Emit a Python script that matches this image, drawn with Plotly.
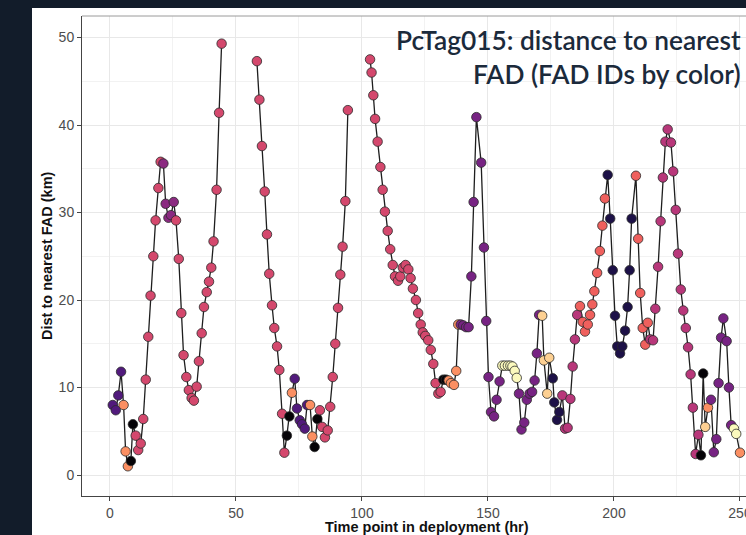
import plotly.graph_objects as go

# ---- data ----
time_seg1 = [1.1, 2.3, 3.3, 4.4, 5.4, 6.2, 7.1, 8.3, 9.1, 10.2, 11.2, 12.2, 13.2, 14.2, 15.2,
             16.1, 17.2, 18.1, 19.2, 20.1, 21.2, 22.1, 23.2, 24.2, 25.3, 26.2, 27.3, 28.3, 29.2,
             30.3, 31.3, 32.4, 33.3, 34.4, 35.3, 36.4, 37.3, 38.4, 39.3, 40.2, 41.1, 42.3, 43.3, 44.3]
dist_seg1 = [8.0, 7.4, 9.1, 11.8, 8.0, 2.7, 1.0, 1.6, 5.8, 4.5, 2.85, 3.6, 6.4, 10.9, 15.8,
             20.5, 25.0, 29.1, 32.8, 35.8, 35.6, 31.0, 29.4, 29.7, 31.2, 29.1, 24.7, 18.5, 13.7,
             11.2, 9.7, 8.8, 8.5, 10.1, 13.0, 16.2, 19.2, 20.9, 22.1, 23.7, 26.7, 32.6, 41.4, 49.3]
fad_seg1 = ["C"] * 4 + ["H"] * 3 + ["A"] * 2 + ["F"] * 11 + ["P"] * 5 + ["F"] * 19

time_seg2 = [58.3, 59.3, 60.3, 61.4, 62.3, 63.2, 64.3, 65.2, 66.3, 67.2, 68.3, 69.2, 70.2, 71.2,
             72.2, 73.3, 74.2, 75.3, 76.2, 77.3, 78.2, 79.4, 80.3, 81.2, 82.3, 83.3, 84.2, 85.3,
             86.4, 87.4, 88.4, 89.4, 90.5, 91.4, 92.3, 93.4, 94.4]
dist_seg2 = [47.3, 42.9, 37.6, 32.4, 27.5, 23.0, 19.4, 16.8, 14.7, 12.0, 7.0, 2.55, 4.5, 6.7,
             9.4, 11.0, 7.6, 6.25, 5.8, 5.3, 8.0, 8.0, 4.4, 3.2, 6.4, 7.4, 5.5, 4.3,
             5.1, 7.8, 11.2, 15.0, 19.1, 22.9, 26.1, 31.3, 41.7]
fad_seg2 = ["F"] * 12 + ["A"] * 2 + ["H"] + ["C"] * 6 + ["H"] * 2 + ["A"] * 2 + ["F"] * 12

time_seg3 = [103.2, 103.8, 104.5, 105.2, 106.2, 107.3, 108.2, 109.1, 110.2, 111.2, 112.2, 113.1,
             114.3, 115.2, 116.2, 117.3, 118.4, 119.3, 120.2, 121.4, 122.3, 123.3, 124.1, 125.1,
             126.3, 127.3, 128.3, 129.2, 130.3, 131.2, 132.3, 133.3, 134.4, 135.3, 136.5, 137.4,
             138.2, 139.2, 140.2, 141.3, 142.3, 143.4, 144.3, 145.4, 147.3, 148.4, 149.3, 150.2,
             151.2, 152.4, 153.4, 154.6, 155.7, 156.7, 157.9, 158.9, 159.7, 160.6, 161.4, 162.3,
             163.3, 164.4, 165.4, 166.5, 167.5, 168.5, 169.4, 170.3, 171.5, 172.2, 173.5, 174.3,
             175.7, 176.3, 177.4, 178.3, 179.5, 180.6, 181.6, 182.7, 183.6, 184.5, 185.4, 186.5,
             187.6, 188.5, 189.6, 190.5, 191.4, 192.2, 193.3, 194.4, 195.4, 196.4, 197.5, 198.5,
             199.5, 200.4, 201.3, 202.4, 203.3, 204.4, 205.4, 206.2, 207.0, 208.7, 209.6, 210.4,
             211.4, 212.4, 213.4, 214.4, 215.5, 216.4, 217.5, 218.5, 219.4, 220.4, 221.3, 222.6,
             223.5, 224.5, 225.4, 226.5, 227.5, 228.5, 229.4, 230.4, 231.3, 232.4, 233.5, 234.5,
             235.4, 236.2, 237.3, 238.5, 239.6, 240.6, 241.5, 242.5, 243.4, 244.7, 245.6, 246.5,
             247.6, 248.5, 250.0]
dist_seg3 = [47.5, 46.0, 43.4, 40.7, 38.1, 35.2, 32.6, 30.1, 27.9, 25.8, 24.0, 22.7,
             22.2, 22.7, 23.7, 24.0, 23.5, 22.5, 21.3, 20.0, 18.5, 17.2, 16.3, 15.9,
             15.4, 14.3, 12.7, 10.5, 9.3, 9.5, 10.9, 10.9, 10.8, 10.5, 10.3, 11.9,
             17.2, 17.2, 17.1, 16.9, 16.9, 22.7, 31.2, 40.9, 35.7, 26.0, 17.6, 11.2,
             7.2, 6.7, 8.6, 10.7, 12.5, 12.5, 12.5, 12.5, 12.4, 11.9, 11.1, 9.3,
             5.2, 6.0, 8.6, 9.3, 9.5, 10.8, 13.9, 18.3, 18.2, 13.1, 9.3, 13.4,
             11.05, 8.3, 6.3, 7.2, 9.1, 5.3, 5.4, 8.7, 12.4, 15.5, 18.3, 19.3,
             17.5, 16.4, 17.2, 18.3, 19.5, 21.0, 23.1, 25.6, 28.5, 31.6, 34.3, 29.3,
             23.4, 18.2, 14.7, 13.9, 14.7, 16.5, 19.2, 23.4, 29.3, 34.2, 27.0, 20.8,
             16.8, 14.9, 17.4, 15.5, 15.4, 19.0, 23.8, 29.0, 34.0, 38.1, 39.5, 38.0,
             34.7, 30.3, 25.3, 21.2, 18.8, 16.8, 14.6, 11.5, 7.7, 2.4, 4.6, 2.25,
             11.6, 5.5, 7.7, 8.6, 2.6, 4.1, 10.5, 15.7, 17.9, 15.3, 10.0, 5.7,
             5.3, 4.7, 2.55]
fad_seg3 = (["F"] * 30 + ["A"] * 2 + ["H"] * 5 + ["D"] * 15 + ["J"] * 7 + ["D"] * 9
            + ["I"] * 4 + ["B"] * 4 + ["E"] * 7 + ["G"] * 11 + ["B"] * 11 + ["G"] * 6
            + ["E"] * 20 + ["A"] * 2 + ["I"] + ["H"] + ["D"] * 9 + ["J"] * 2 + ["H"])

fad_colors = {
    "A": "#050307", "B": "#1d1147", "C": "#511a7c", "D": "#772383", "P": "#8b2a81",
    "E": "#b8377a", "F": "#d4486d", "G": "#ef605d", "H": "#fb8f62", "I": "#fdd092",
    "J": "#fbf9bd",
}

segments = [(time_seg1, dist_seg1, fad_seg1), (time_seg2, dist_seg2, fad_seg2),
            (time_seg3, dist_seg3, fad_seg3)]

line_x, line_y = [], []
for t, d, _ in segments:
    line_x += t + [None]
    line_y += d + [None]

pts_x = time_seg1 + time_seg2 + time_seg3
pts_y = dist_seg1 + dist_seg2 + dist_seg3
pts_c = [fad_colors[f] for f in fad_seg1 + fad_seg2 + fad_seg3]

fig = go.Figure()
fig.add_trace(go.Scatter(x=line_x, y=line_y, mode="lines", connectgaps=False,
                         line=dict(color="#1e1e1e", width=1.3), hoverinfo="skip",
                         showlegend=False))
fig.add_trace(go.Scatter(x=pts_x, y=pts_y, mode="markers",
                         marker=dict(size=9.5, color=pts_c,
                                     line=dict(color="#2a2a2a", width=0.8)),
                         showlegend=False))

# figure is wider than the 746 px window: the plot panel continues past the right edge
W, H = 800, 535
L, R, T, B = 82, 28, 16, 39
pw, ph = W - L - R, H - T - B

fig.update_layout(
    width=W, height=H,
    margin=dict(l=L, r=R, t=T, b=B, pad=0),
    paper_bgcolor="#121c2a",
    plot_bgcolor="#ffffff",
    font=dict(family="Liberation Sans, Arial, sans-serif", color="#4d4d4d"),
    xaxis=dict(range=[-11.1, 262.7], tickvals=[0, 50, 100, 150, 200, 250],
               showgrid=True, gridcolor="#e8e8e8", gridwidth=1,
               minor=dict(tickvals=[25, 75, 125, 175, 225], showgrid=True,
                          gridcolor="#f2f2f2", gridwidth=1),
               zeroline=False, showline=True, linecolor="#444444", linewidth=1,
               ticks="outside", ticklen=4, tickcolor="#444444",
               tickfont=dict(size=14, color="#4d4d4d")),
    yaxis=dict(range=[-2.4, 52.46], tickvals=[0, 10, 20, 30, 40, 50],
               showgrid=True, gridcolor="#e8e8e8", gridwidth=1,
               minor=dict(tickvals=[5, 15, 25, 35, 45], showgrid=True,
                          gridcolor="#f2f2f2", gridwidth=1),
               zeroline=False, showline=True, linecolor="#444444", linewidth=1,
               ticks="outside", ticklen=4, tickcolor="#444444",
               tickfont=dict(size=14, color="#4d4d4d")),
    shapes=[
        dict(type="rect", xref="paper", yref="paper",
             x0=(32 - L) / pw, x1=1.1, y0=-0.2, y1=(H - B - 8) / ph,
             fillcolor="#ffffff", line=dict(width=0), layer="below"),
        dict(type="line", xref="paper", yref="paper", x0=0, x1=1, y0=1, y1=1,
             line=dict(color="#9a9a9a", width=1)),
    ],
    annotations=[
        dict(text="PcTag015: distance to nearest<br>FAD (FAD IDs by color)",
             xref="paper", yref="paper", x=(743 - L) / pw, y=(H - B - 22) / ph,
             xanchor="right", yanchor="top", align="right", showarrow=False,
             font=dict(family="Lato", size=26.3, weight=600, color="#1b2a3b")),
        dict(text="<b>Time point in deployment (hr)</b>", xref="paper", yref="paper",
             x=(427 - L) / pw, y=(H - B - 527) / ph, xanchor="center", yanchor="middle",
             showarrow=False, font=dict(family="Liberation Sans, Arial", size=14.5,
                                        color="#111111")),
        dict(text="<b>Dist to nearest FAD (km)</b>", xref="paper", yref="paper",
             x=(47 - L) / pw, y=(H - B - 256) / ph, xanchor="center", yanchor="middle",
             textangle=-90, showarrow=False,
             font=dict(family="Liberation Sans, Arial", size=14.5, color="#111111")),
    ],
)

fig.write_html("out.html", config={"displayModeBar": False},
               post_script="document.body.style.margin='0px';"
                           "document.body.style.overflow='hidden';")
